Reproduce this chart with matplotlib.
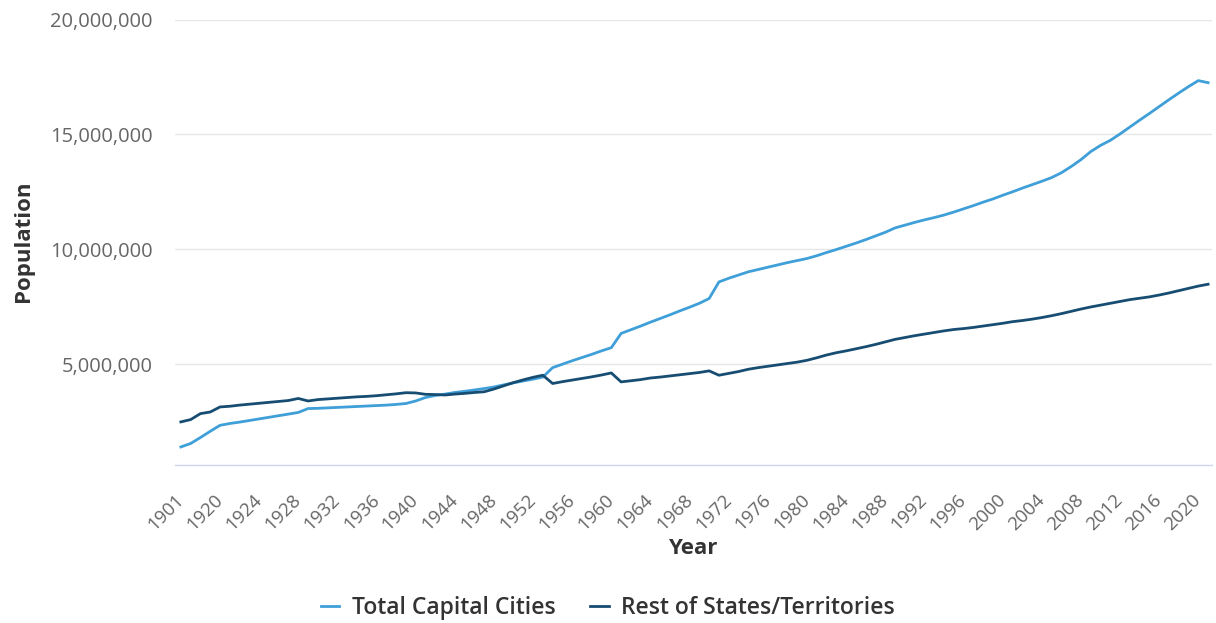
import matplotlib
matplotlib.use("Agg")
import matplotlib.pyplot as plt
from matplotlib.ticker import FuncFormatter, FixedLocator

plt.rcParams['font.family'] = ['Open Sans', 'DejaVu Sans']

years = [1901, 1906, 1911, 1916] + list(range(1920, 2022))

capital_m = [
    1.40, 1.55, 1.81, 2.08,                     # 1901-1916
    2.34,                                       # 1920
    2.42, 2.48, 2.55, 2.62, 2.69, 2.76, 2.83, 2.90, 3.07, 3.08,   # 1921-1930
    3.10, 3.12, 3.14, 3.16, 3.18, 3.20, 3.22, 3.25, 3.29, 3.40,   # 1931-1940
    3.55, 3.64, 3.70, 3.77, 3.82, 3.88, 3.94, 4.01, 4.10, 4.19,   # 1941-1950
    4.27, 4.35, 4.44, 4.85, 5.00, 5.15, 5.29, 5.43, 5.58, 5.72,   # 1951-1960
    6.34, 6.50, 6.66, 6.83, 6.99, 7.15, 7.32, 7.48, 7.65, 7.86,   # 1961-1970
    8.58, 8.74, 8.88, 9.02, 9.12, 9.22, 9.32, 9.42, 9.51, 9.60,   # 1971-1980
    9.72, 9.86, 9.99, 10.13, 10.27, 10.42, 10.58, 10.74, 10.93, 11.05,  # 1981-1990
    11.17, 11.28, 11.38, 11.49, 11.62, 11.76, 11.90, 12.05, 12.19, 12.35,  # 1991-2000
    12.50, 12.66, 12.81, 12.96, 13.12, 13.33, 13.60, 13.90, 14.25, 14.52,  # 2001-2010
    14.74, 15.02, 15.32, 15.62, 15.91, 16.21, 16.51, 16.80, 17.08, 17.34,  # 2011-2020
    17.25,                                      # 2021
]

rest_m = [
    2.49, 2.59, 2.85, 2.92,                     # 1901-1916
    3.14,                                       # 1920
    3.17, 3.22, 3.26, 3.30, 3.34, 3.38, 3.42, 3.51, 3.40, 3.46,   # 1921-1930
    3.49, 3.52, 3.55, 3.58, 3.60, 3.63, 3.67, 3.71, 3.76, 3.75,   # 1931-1940
    3.69, 3.68, 3.66, 3.70, 3.73, 3.77, 3.80, 3.92, 4.06, 4.20,   # 1941-1950
    4.32, 4.43, 4.52, 4.16, 4.24, 4.31, 4.38, 4.45, 4.53, 4.62,   # 1951-1960
    4.23, 4.28, 4.33, 4.40, 4.44, 4.49, 4.54, 4.59, 4.64, 4.71,   # 1961-1970
    4.52, 4.60, 4.68, 4.78, 4.85, 4.91, 4.97, 5.03, 5.09, 5.17,   # 1971-1980
    5.28, 5.40, 5.50, 5.58, 5.67, 5.76, 5.86, 5.97, 6.08, 6.16,   # 1981-1990
    6.24, 6.31, 6.38, 6.45, 6.51, 6.55, 6.60, 6.66, 6.72, 6.78,   # 1991-2000
    6.85, 6.90, 6.96, 7.03, 7.11, 7.20, 7.30, 7.40, 7.49, 7.57,   # 2001-2010
    7.65, 7.73, 7.81, 7.87, 7.93, 8.01, 8.10, 8.20, 8.30, 8.40,   # 2011-2020
    8.48,                                       # 2021
]

assert len(years) == len(capital_m) == len(rest_m)

capital = [v * 1e6 for v in capital_m]
rest = [v * 1e6 for v in rest_m]

yticks = [5_000_000, 10_000_000, 15_000_000, 20_000_000]

cap_color = '#3f9fd8'
rest_color = '#174d72'

fig = plt.figure(figsize=(12.16, 6.23), dpi=100)
ax = fig.add_axes([175 / 1216, 1 - 465 / 623, (1212 - 175) / 1216, (465 - 19.5) / 623])

x = list(range(len(years)))
ax.plot(x, capital, color=cap_color, lw=2.0, label='Total Capital Cities', solid_joinstyle='round')
ax.plot(x, rest, color=rest_color, lw=2.0, label='Rest of States/Territories', solid_joinstyle='round')

ax.set_xlim(-0.6, 105.4)
ax.set_ylim(614_000, 20_000_000)

ax.yaxis.set_major_locator(FixedLocator(yticks))
ax.yaxis.set_major_formatter(FuncFormatter(lambda v, p: f"{int(v):,}"))
ax.grid(axis='y', color='#e6e6e6', lw=1)
ax.set_axisbelow(True)

tick_idx = list(range(0, len(years), 4))
ax.set_xticks(tick_idx)
ax.set_xticklabels([str(years[i]) for i in tick_idx], rotation=45, ha='right',
                   rotation_mode='anchor', va='center')

ax.tick_params(axis='x', length=0, pad=23, labelsize=13.5, labelcolor='#666666')
ax.tick_params(axis='y', length=0, pad=16, labelsize=14.5, labelcolor='#666666')

for s in ['top', 'right', 'left']:
    ax.spines[s].set_visible(False)
ax.spines['bottom'].set_color('#ccd6eb')
ax.spines['bottom'].set_linewidth(1)

fig.text(693 / 1216, 1 - 549 / 623, 'Year', ha='center', va='center',
         fontsize=16, fontweight='bold', color='#333333')
fig.text(23 / 1216, 1 - 241 / 623, 'Population', ha='center', va='center', rotation=90,
         fontsize=16, fontweight='bold', color='#333333')

leg = fig.legend(loc='center', bbox_to_anchor=(608 / 1216, 1 - 608 / 623), ncol=2, frameon=False,
                 handlelength=0.8, handletextpad=0.55, columnspacing=1.5,
                 prop={'size': 16.5, 'weight': 'semibold'})
for t in leg.get_texts():
    t.set_color('#333333')

fig.savefig('out.png', dpi=100)
